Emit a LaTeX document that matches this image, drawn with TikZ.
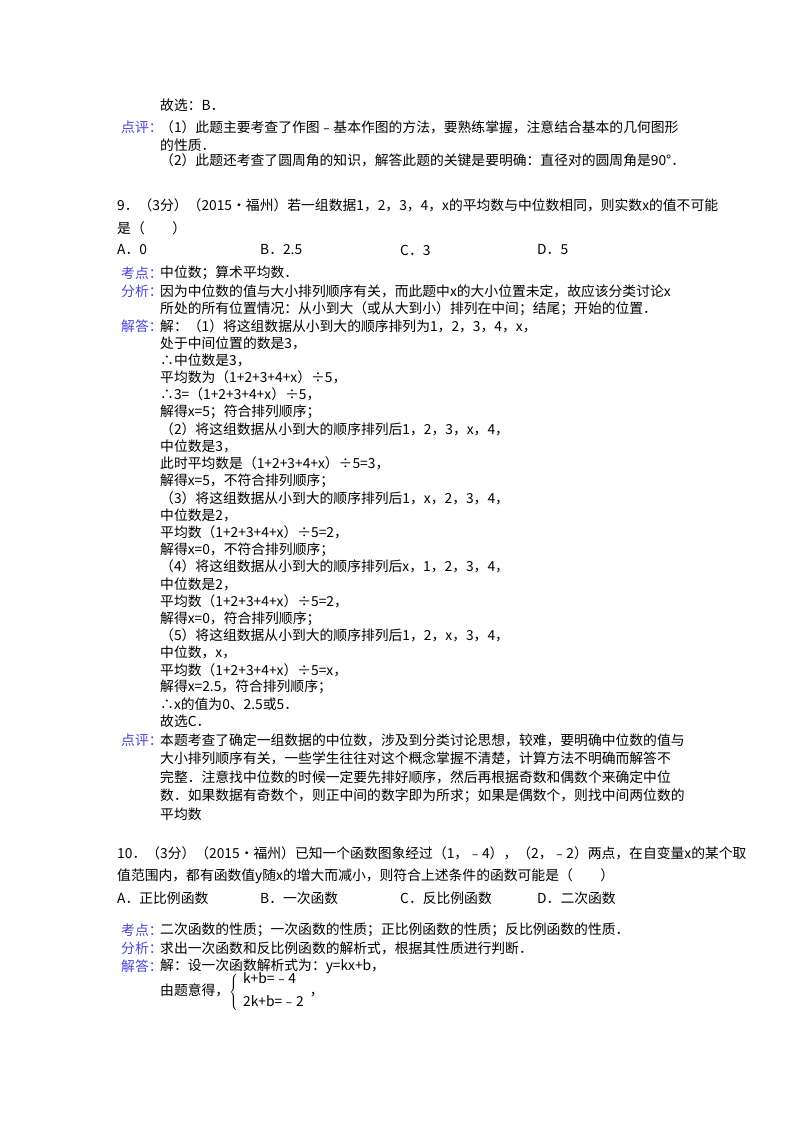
\documentclass[tikz,border=0pt]{standalone}
\usepackage{fontspec}
\setmainfont{Noto Sans CJK SC}
\definecolor{lab}{RGB}{70,70,220}
\begin{document}
\begin{tikzpicture}[x=1pt,y=1pt,every node/.style={anchor=west,inner sep=0pt,font=\fontsize{13.8}{15}\selectfont},
 lbl/.style={text=lab}]
\useasboundingbox (0,0) rectangle (800,-1132);
\node (l1) at (160,-105) {故选：B．};
\node[lbl] (p1) at (121,-127) {点评：};
\node (l2) at (160,-127) {（1）此题主要考查了作图﹣基本作图的方法，要熟练掌握，注意结合基本的几何图形};
\node (l3) at (160,-145) {的性质．};
\node (l4) at (160,-160) {（2）此题还考查了圆周角的知识，解答此题的关键是要明确：直径对的圆周角是90°．};
\node (q1) at (117,-205) {9．（3分）（2015•福州）若一组数据1，2，3，4，x的平均数与中位数相同，则实数x的值不可能};
\node (q2) at (117,-228) {是（\quad\quad）};
\node (oa) at (117,-250) {A．0};
\node (ob) at (260,-250) {B．2.5};
\node (oc) at (400,-250) {C．3};
\node (od) at (537,-250) {D．5};
\node[lbl] (k1) at (121,-273) {考点：};
\node (k2) at (160,-273) {中位数；算术平均数．};
\node[lbl] (f1) at (121,-291) {分析：};
\node (f2) at (160,-291) {因为中位数的值与大小排列顺序有关，而此题中x的大小位置未定，故应该分类讨论x};
\node (f3) at (160,-309) {所处的所有位置情况：从小到大（或从大到小）排列在中间；结尾；开始的位置．};
\node[lbl] (j1) at (121,-326) {解答：};
\foreach \t [count=\i from 0] in {
 {解：（1）将这组数据从小到大的顺序排列为1，2，3，4，x，},
 {处于中间位置的数是3，},
 {∴中位数是3，},
 {平均数为（1+2+3+4+x）÷5，},
 {∴3=（1+2+3+4+x）÷5，},
 {解得x=5；符合排列顺序；},
 {（2）将这组数据从小到大的顺序排列后1，2，3，x，4，},
 {中位数是3，},
 {此时平均数是（1+2+3+4+x）÷5=3，},
 {解得x=5，不符合排列顺序；},
 {（3）将这组数据从小到大的顺序排列后1，x，2，3，4，},
 {中位数是2，},
 {平均数（1+2+3+4+x）÷5=2，},
 {解得x=0，不符合排列顺序；},
 {（4）将这组数据从小到大的顺序排列后x，1，2，3，4，},
 {中位数是2，},
 {平均数（1+2+3+4+x）÷5=2，},
 {解得x=0，符合排列顺序；},
 {（5）将这组数据从小到大的顺序排列后1，2，x，3，4，},
 {中位数，x，},
 {平均数（1+2+3+4+x）÷5=x，},
 {解得x=2.5，符合排列顺序；},
 {∴x的值为0、2.5或5．},
 {故选C．}}
 \node (s\i) at (160,-326-17.2*\i) {\t};
\node[lbl] (d1) at (121,-740) {点评：};
\node (d2) at (160,-740) {本题考查了确定一组数据的中位数，涉及到分类讨论思想，较难，要明确中位数的值与};
\node (d3) at (160,-758) {大小排列顺序有关，一些学生往往对这个概念掌握不清楚，计算方法不明确而解答不};
\node (d4) at (160,-777) {完整．注意找中位数的时候一定要先排好顺序，然后再根据奇数和偶数个来确定中位};
\node (d5) at (160,-796) {数．如果数据有奇数个，则正中间的数字即为所求；如果是偶数个，则找中间两位数的};
\node (d6) at (160,-814) {平均数};
\node (r1) at (117,-853) {10．（3分）（2015•福州）已知一个函数图象经过（1，﹣4），（2，﹣2）两点，在自变量x的某个取};
\node (r2) at (117,-876) {值范围内，都有函数值y随x的增大而减小，则符合上述条件的函数可能是（\quad\quad）};
\node (ra) at (117,-898) {A．正比例函数};
\node (rb) at (260,-898) {B．一次函数};
\node (rc) at (400,-898) {C．反比例函数};
\node (rd) at (537,-898) {D．二次函数};
\node[lbl] (m1) at (121,-930) {考点：};
\node (m2) at (160,-930) {二次函数的性质；一次函数的性质；正比例函数的性质；反比例函数的性质．};
\node[lbl] (n1) at (121,-948) {分析：};
\node (n2) at (160,-948) {求出一次函数和反比例函数的解析式，根据其性质进行判断．};
\node[lbl] (o1) at (121,-966) {解答：};
\node (o2) at (160,-966) {解：设一次函数解析式为：y=kx+b，};
\node (e1) at (160,-992) {由题意得，$\left\{\begin{array}{l}\mbox{k+b=﹣4}\\[8pt]\mbox{2k+b=﹣2}\end{array}\right.$，};
\end{tikzpicture}
\end{document}
